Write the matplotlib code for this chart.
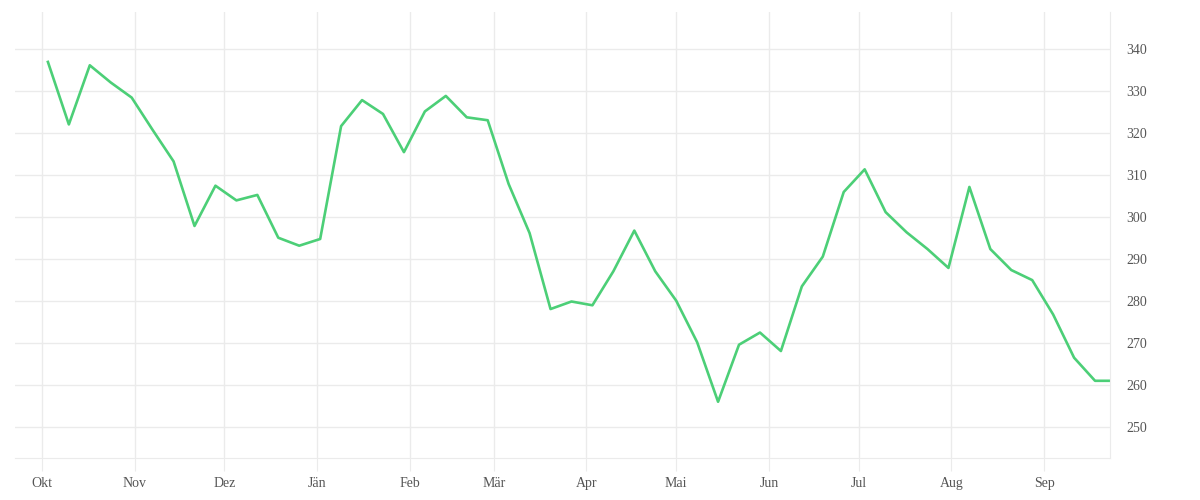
import matplotlib
matplotlib.use("Agg")
import matplotlib.pyplot as plt
import pandas as pd

# weekly values
dates = list(pd.date_range("2020-10-03", periods=51, freq="7D")) + [pd.Timestamp("2021-09-23")]
values = [
    337.0, 322.1, 336.2, 332.1, 328.5, 320.8, 313.3, 297.9, 307.5, 304.0,
    305.3, 295.1, 293.2, 294.8, 321.7, 327.9, 324.6, 315.5, 325.2, 328.9,
    323.8, 323.1, 307.9, 296.2, 278.1, 279.9, 279.0, 287.1, 296.8, 287.1,
    280.1, 270.2, 256.0, 269.6, 272.5, 268.1, 283.5, 290.6, 306.0, 311.4,
    301.2, 296.4, 292.4, 287.9, 307.2, 292.4, 287.4, 285.0, 276.8, 266.5,
    261.0, 261.0,
]
month_ticks = pd.date_range("2020-10-01", "2021-09-01", freq="MS")
month_labels = ["Okt", "Nov", "Dez", "Jän", "Feb", "Mär", "Apr",
                "Mai", "Jun", "Jul", "Aug", "Sep"]
y_ticks = [250, 260, 270, 280, 290, 300, 310, 320, 330, 340]

plt.rcParams["font.family"] = ["Liberation Serif", "DejaVu Serif"]

fig = plt.figure(figsize=(12, 5), dpi=100)
ax = fig.add_axes([0.0125, 0.084, 0.9125, 0.892])

ax.plot(dates, values, color="#4ccf77", linewidth=1.9)

ax.set_xlim(pd.Timestamp("2020-09-22"), pd.Timestamp("2021-09-23"))
ax.set_ylim(242.6, 348.9)

ax.set_xticks(month_ticks)
ax.set_xticklabels(month_labels)
ax.set_yticks(y_ticks)
ax.yaxis.tick_right()

ax.grid(True, color="#ebebeb", linewidth=1)
ax.set_axisbelow(True)
for side in ["top", "left"]:
    ax.spines[side].set_visible(False)
ax.spines["bottom"].set_color("#ebebeb")
ax.spines["right"].set_color("#ebebeb")

ax.tick_params(axis="x", length=9, color="#ebebeb", labelsize=10, labelcolor="#555555", pad=5)
ax.tick_params(axis="y", length=0, labelsize=10, labelcolor="#555555", pad=12)

fig.savefig("out.png", dpi=100, facecolor="white")
